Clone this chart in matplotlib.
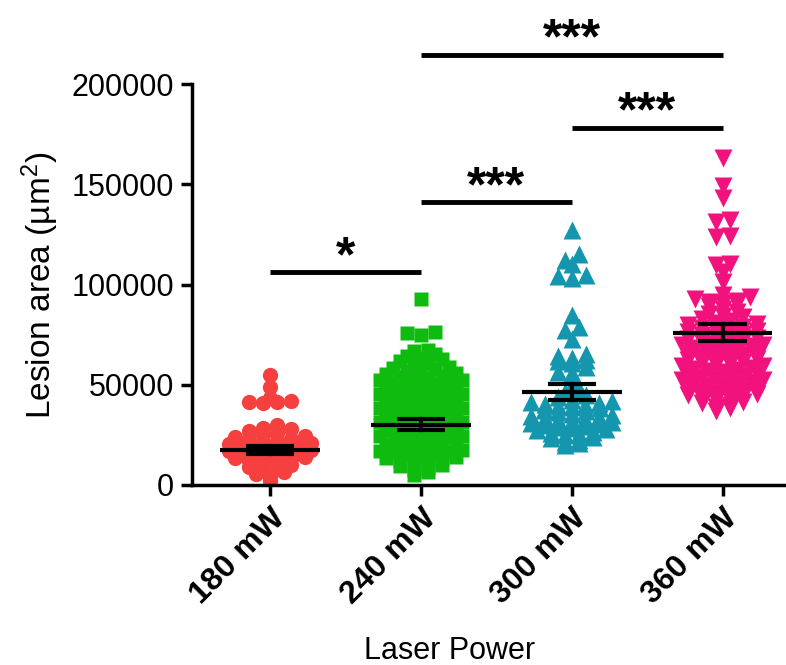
import matplotlib
matplotlib.use("Agg")
import matplotlib.pyplot as plt
import numpy as np

plt.rcParams['font.family'] = ['Liberation Sans', 'DejaVu Sans']
plt.rcParams['mathtext.fontset'] = 'custom'
plt.rcParams['mathtext.rm'] = 'Liberation Sans'
plt.rcParams['mathtext.default'] = 'regular'

groups = ['180 mW', '240 mW', '300 mW', '360 mW']

# lesion areas (um^2), per laser power
red = [2000,
       4200, 5400, 6500,
       7400, 8300, 9200, 10100,
       10800, 11500, 12100, 12800, 13300, 13900,
       14200, 14800, 15400, 16000, 16500, 16900, 17300,
       17700, 18300, 18800, 19400, 19900, 20400, 20900,
       21300, 21900, 22500, 23100, 23700, 24300,
       25000, 26000, 27000, 27800,
       28600, 29800,
       41000, 41500, 41600, 41900, 43500, 49000, 55000]

green = [5000, 6300,
         7500, 8400, 9300, 10200,
         10800, 11500, 12100, 12800, 13300, 13900,
         14300, 14900, 15500, 16100, 16600, 17100, 17300,
         17800, 18400, 19000, 19600, 20100, 20700,
         21300, 21900, 22500, 23100, 23700, 24200, 24400,
         24800, 25400, 26000, 26600, 27200, 27800,
         28300, 28900, 29500, 30100, 30700, 31200, 31400,
         31800, 32400, 33000, 33600, 34200, 34700,
         35300, 35900, 36500, 37100, 37700, 38200, 38400,
         38800, 39400, 40000, 40600, 41200, 41700,
         42300, 42900, 43500, 44100, 44700, 45200, 45400,
         45800, 46400, 47000, 47600, 48200, 48700,
         49300, 49900, 50500, 51100, 51700, 52200, 52400,
         52800, 53400, 54000, 54600, 55200, 55700,
         56300, 57000, 57700, 58400, 59100,
         60000, 61000, 61800, 62600,
         63500, 64500, 65500,
         67000, 67500,
         75000, 75600, 76100,
         93000]

teal = [19800, 20700,
        21500, 22400, 23300, 24100,
        24800, 25400, 26000, 26600, 27200, 27800,
        28200, 28700, 29200, 29800, 30300, 30800, 31300,
        31700, 32200, 32700, 33300, 33800, 34300, 34800,
        35500, 36200, 36900, 37600, 38200,
        38700, 39200, 39700, 40300, 40800, 41300, 41800,
        42500, 43800, 45000,
        46500, 48000,
        50000,
        56000, 56500, 59000,
        61000, 62000, 62500,
        63500, 64500, 65500,
        73000, 77500, 79000, 85000,
        103000, 104000, 104500,
        110000, 112000, 115000, 127000]

pink = [37000, 38200,
        38800, 39800, 40700, 41600,
        42200, 42800, 43500, 44200, 44800, 45300,
        45700, 46200, 46800, 47400, 48000, 48600,
        49200, 49800, 50400, 51000, 51600, 52200, 52400,
        52700, 53300, 53900, 54500, 55100, 55700,
        56200, 56800, 57400, 58000, 58600, 59200, 59400,
        59700, 60300, 60900, 61500, 62100, 62700,
        63200, 63800, 64400, 65000, 65600, 66200,
        66700, 67300, 67900, 68500, 69100, 69700, 69900,
        70200, 70800, 71400, 72000, 72600, 73200,
        73700, 74300, 74900, 75500, 76100, 76700,
        77200, 77800, 78400, 79000, 79600, 80200,
        81000, 82000, 83000, 83800,
        84500, 85200, 86500,
        88000, 89500, 90500,
        91000, 91500, 92000, 93000, 94000,
        95000, 101000, 106000, 109500, 110000,
        123500, 124000, 131000, 132000, 143000, 149000, 163000]

means = [17500, 30000, 46500, 76000]
sems = [1800, 2700, 4000, 4200]

# significance brackets: (from group, to group, height, label)
sig_pairs = [(0, 1, 106000, '*'),
             (1, 2, 141000, '***'),
             (2, 3, 178000, '***'),
             (1, 3, 214500, '***')]

colors = ['#F5403F', '#10BB10', '#1396AE', '#F2127E']
markers = ['o', 's', '^', 'v']
msizes = [11, 10, 12.5, 12.5]


def swarm_x(vals, center, bin_h=3500, step=0.092, max_half=0.27):
    # GraphPad-like rows: points binned by value, spread symmetrically
    vals = np.asarray(vals, dtype=float)
    xs = np.empty(len(vals))
    bins = np.floor(vals / bin_h).astype(int)
    for b in np.unique(bins):
        idx = np.where(bins == b)[0]
        idx = idx[np.argsort(vals[idx])]
        n = len(idx)
        sp = step if n < 2 else min(step, 2 * max_half / (n - 1))
        offs = (np.arange(n) - (n - 1) / 2) * sp
        order = np.argsort(np.abs(offs), kind='stable')
        xs[idx] = center + offs[order]
    return xs


fig = plt.figure(figsize=(7.86, 6.65), dpi=100)
ax = fig.add_axes([192/786, 180/665, 594/786, 401/665])

for i, vals in enumerate([red, green, teal, pink]):
    xs = swarm_x(vals, i)
    ax.plot(xs, vals, linestyle='none', marker=markers[i], ms=msizes[i],
            color=colors[i], mec='none', zorder=2)

for i in range(4):
    m, s = means[i], sems[i]
    ax.plot([i - 0.33, i + 0.33], [m, m], color='k', lw=3, zorder=3, solid_capstyle='butt')
    ax.plot([i, i], [m - s, m + s], color='k', lw=3, zorder=3)
    for y in (m - s, m + s):
        ax.plot([i - 0.16, i + 0.16], [y, y], color='k', lw=3, zorder=3, solid_capstyle='butt')

for a, b, h, lab in sig_pairs:
    ax.plot([a, b], [h, h], color='k', lw=3.5, clip_on=False, solid_capstyle='butt')
    ax.annotate(lab, xy=((a + b) / 2, h), xytext=(0, 1), textcoords='offset points',
                ha='center', va='baseline', fontsize=36, fontweight='bold',
                annotation_clip=False)

ax.set_xlim(-0.517, 3.42)
ax.set_ylim(0, 200000)
ax.set_yticks(np.arange(0, 200001, 50000))
ax.set_yticklabels([str(v) for v in range(0, 200001, 50000)], fontsize=22)
ax.set_xticks(range(4))
ax.set_xticklabels(groups, fontsize=23, fontweight='bold', rotation=45,
                   ha='right', va='top', rotation_mode='anchor')
ax.tick_params(axis='both', length=8, width=2.5, direction='out', pad=5)
for sp in ['top', 'right']:
    ax.spines[sp].set_visible(False)
for sp in ['left', 'bottom']:
    ax.spines[sp].set_linewidth(2.5)

fig.text(40/786, 1 - 285/665, 'Lesion area (µm$^2$)', rotation=90, fontsize=24,
         ha='center', va='center')
fig.text(450/786, 1 - 651/665, 'Laser Power', fontsize=22, ha='center', va='center')

fig.savefig('out.png', dpi=100)
